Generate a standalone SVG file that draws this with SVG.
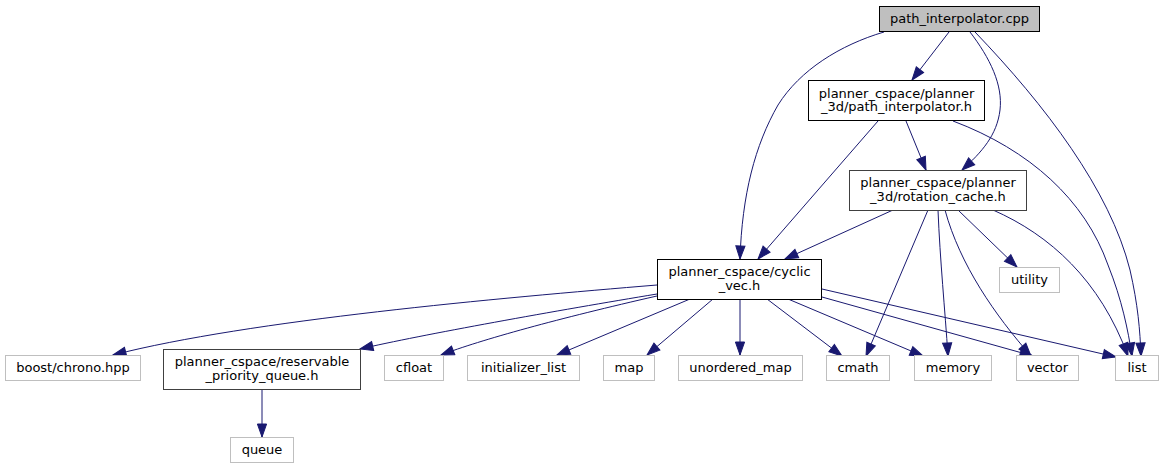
<svg xmlns="http://www.w3.org/2000/svg" width="1163" height="469" viewBox="0 0 1163 469">
<style>
  rect { fill: #ffffff; stroke: #000000; stroke-width: 1; }
  .root rect { fill: #bfbfbf; }
  .ext rect { stroke: #bfbfbf; }
  .dark rect { stroke: #404040; }
  text { font-family: "DejaVu Sans", "Noto Sans", sans-serif; font-size: 13px; text-anchor: middle; fill: #000000; }
  .edges path { fill: none; stroke: #191970; stroke-width: 1; marker-end: url(#arr); }
</style>
<defs>
  <marker id="arr" markerWidth="16" markerHeight="12" refX="13" refY="5" orient="auto" markerUnits="userSpaceOnUse" overflow="visible">
    <path d="M0,0.4 L13,5 L0,9.6 z" fill="#191970" stroke="#191970" stroke-width="1"/>
  </marker>
</defs>
<rect x="0" y="0" width="1163" height="469" style="fill:#ffffff;stroke:none"/>

<g class="edges" id="edges">
  <path d="M949,32 L912,80"/>
  <path d="M884,32 C840,45 800,70 778,105 C755,145 742,195 740,259"/>
  <path d="M970,32 C990,58 1003,85 1000,110 C997,135 982,152 962,170"/>
  <path d="M975,32 C1045,105 1110,190 1130,270 C1138,305 1140,330 1141,356"/>
  <path d="M878,121 L758,259"/>
  <path d="M906,121 L926,170"/>
  <path d="M953,121 C1030,150 1085,200 1108,265 C1122,300 1128,330 1132,356"/>
  <path d="M893,210 L785,259"/>
  <path d="M928,210 L866,356"/>
  <path d="M938,210 C940,260 945,310 948,356"/>
  <path d="M945,210 C960,265 995,315 1031,356"/>
  <path d="M958,210 L1017,267"/>
  <path d="M993,210 C1050,235 1100,280 1128,356"/>
  <path d="M657,285 C500,298 250,320 113,355"/>
  <path d="M657,294 C560,310 420,335 360,349"/>
  <path d="M657,296 C560,318 480,340 441,355"/>
  <path d="M690,299 L557,355"/>
  <path d="M713,299 L647,355"/>
  <path d="M740,299 L740,355"/>
  <path d="M767,299 L842,356"/>
  <path d="M788,299 L923,356"/>
  <path d="M822,297 L1033,356"/>
  <path d="M822,289 L1116,357"/>
  <path d="M262,389 L262,437"/>
</g>

<g id="node_cpp" class="root">
  <rect x="879.5" y="6.5" width="160" height="25"/>
  <text x="959.5" y="23">path_interpolator.cpp</text>
</g>
<g id="node_path_interpolator_h">
  <rect x="808.5" y="80.5" width="176" height="40"/>
  <text x="896.5" y="97.5">planner_cspace/planner</text>
  <text x="896.5" y="111">_3d/path_interpolator.h</text>
</g>
<g id="node_rotation_cache_h" class="dark">
  <rect x="849.5" y="170.5" width="177" height="40"/>
  <text x="938" y="187">planner_cspace/planner</text>
  <text x="938" y="200.5">_3d/rotation_cache.h</text>
</g>
<g id="node_cyclic_vec_h">
  <rect x="657.5" y="259.5" width="164" height="40"/>
  <text x="739.5" y="276">planner_cspace/cyclic</text>
  <text x="739.5" y="289.5">_vec.h</text>
</g>
<g id="node_utility" class="ext">
  <rect x="999.5" y="267.5" width="60" height="25"/>
  <text x="1029.5" y="284">utility</text>
</g>
<g id="node_boost_chrono" class="ext">
  <rect x="5.5" y="355.5" width="135" height="25"/>
  <text x="73" y="372">boost/chrono.hpp</text>
</g>
<g id="node_reservable" class="dark">
  <rect x="163.5" y="349.5" width="197" height="40"/>
  <text x="262" y="366">planner_cspace/reservable</text>
  <text x="262" y="379.5">_priority_queue.h</text>
</g>
<g id="node_queue" class="ext">
  <rect x="230.5" y="437.5" width="63" height="25"/>
  <text x="262" y="454">queue</text>
</g>
<g id="node_cfloat" class="ext">
  <rect x="384.5" y="355.5" width="59" height="25"/>
  <text x="414" y="372">cfloat</text>
</g>
<g id="node_initializer_list" class="ext">
  <rect x="467.5" y="355.5" width="112" height="25"/>
  <text x="523.5" y="372">initializer_list</text>
</g>
<g id="node_map" class="ext">
  <rect x="603.5" y="355.5" width="51" height="25"/>
  <text x="629" y="372">map</text>
</g>
<g id="node_unordered_map" class="ext">
  <rect x="678.5" y="355.5" width="124" height="25"/>
  <text x="740.5" y="372">unordered_map</text>
</g>
<g id="node_cmath" class="ext">
  <rect x="826.5" y="355.5" width="63" height="25"/>
  <text x="858" y="372">cmath</text>
</g>
<g id="node_memory" class="ext">
  <rect x="914.5" y="355.5" width="77" height="25"/>
  <text x="953" y="372">memory</text>
</g>
<g id="node_vector" class="ext">
  <rect x="1016.5" y="355.5" width="62" height="25"/>
  <text x="1047.5" y="372">vector</text>
</g>
<g id="node_list" class="ext">
  <rect x="1115.5" y="355.5" width="43" height="25"/>
  <text x="1137" y="372">list</text>
</g>
</svg>
